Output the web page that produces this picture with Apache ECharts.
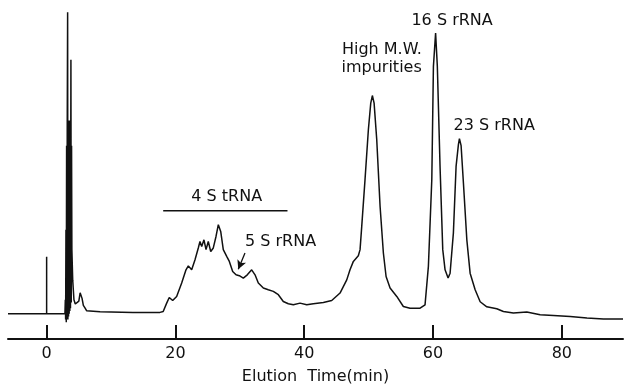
<!DOCTYPE html>
<html>
<head>
<meta charset="utf-8">
<script src="https://cdn.jsdelivr.net/npm/echarts@6/dist/echarts.min.js"></script>
<style>
html,body{margin:0;padding:0;background:#fff;}
#chart{width:624px;height:386px;}
</style>
</head>
<body>
<div id="chart"></div>
<script>
// Elution time (min)
var times = [-6,0,0,0,2.84,2.9,2.95,3.0,3.05,3.1,3.15,3.2,3.26,3.3,3.35,3.4,3.45,3.5,3.55,3.6,3.65,3.7,3.77,3.82,3.87,3.92,4.05,4.24,4.45,4.71,5.0,5.2,5.33,5.5,5.7,5.95,6.2,8.3,13.4,17.6,18.1,18.64,19.04,19.57,20.19,20.97,21.64,22.0,22.52,23.04,23.55,23.81,24.08,24.43,24.75,25.1,25.48,25.88,26.3,26.66,27.03,27.43,27.96,28.37,28.89,29.41,29.92,30.54,31.16,31.84,32.36,32.87,33.65,34.42,35.2,35.98,36.75,37.53,38.31,39.35,40.39,41.41,42.97,44.27,45.56,46.6,47.11,47.63,48.4,48.67,48.93,49.44,49.96,50.33,50.58,50.85,51.26,51.78,52.29,52.71,53.33,54.37,55.39,56.43,57.99,58.76,59.28,59.81,60.06,60.4,60.67,61.09,61.51,61.87,62.34,62.65,63.16,63.58,63.94,64.1,64.36,64.72,65.25,65.76,66.54,67.32,68.35,69.9,70.93,72.48,74.56,76.63,78.7,81.3,83.9,86.46,89.5];
// Detector signal (relative units)
var signal = [0,0,20.4,0,0,5,-2,30,-3,60,-2,68,107.6,-2,69,-1,69,0,68,1,69,2,90.7,4,60,22.9,12,5,3.5,3.2,4.5,7.5,8.2,5.5,3,2.1,1.1,0.7,0.5,0.5,0.8,3.8,5.8,4.75,6.2,11,15.7,17.1,15.7,19.3,23.5,25.8,24.0,26.4,22.9,25.8,22.25,23.5,27.6,31.8,29.4,22.9,20.5,18.7,15.1,13.9,13.6,12.75,13.9,15.7,13.9,11,9.2,8.6,8.0,6.8,4.4,3.6,3.2,3.8,3.2,3.6,4.0,4.75,7.4,12.1,15.7,18.7,20.7,22.9,31.2,47.9,65.7,75.2,77.9,75.2,62.1,38.3,21.7,13.3,9.2,6.2,2.6,2.0,2.0,3.2,16.9,47.9,88.3,100.2,88.3,52.6,22.9,15.7,12.75,14.5,28.8,52.6,60.4,62.5,60,46.7,26.4,14.5,8.6,4.3,2.5,1.8,0.8,0.25,0.6,-0.36,-0.6,-0.96,-1.5,-1.9,-1.9];
var tickValues = [0,20,40,60,80];
// Annotation texts and their anchor positions (time, signal)
var labelTexts = ['4 S tRNA','5 S rRNA','16 S rRNA','23 S rRNA'];
var labelTimes = [27.96,36.32,62.96,69.5];
var labelHeights = [41.9,25.8,104.5,67];
var hmwText = 'High M.W.\nimpurities';
var hmwTime = 58.25, hmwHeight = 91;
var barTimes = [18.1,37.4];
var barHeight = 36.8;
var arrowFrom = [30.8,21.7];
var arrowTo = [29.76,15.9];

var FONT = 'DejaVu Sans';
var INK = '#111';

var traceData = times.map(function(t,i){return [t, signal[i]];});
var labelData = labelTexts.map(function(s,i){return [labelTimes[i], labelHeights[i], s];});

var chart = echarts.init(document.getElementById('chart'), null, {renderer:'canvas'});
chart.setOption({
  animation:false,
  backgroundColor:'#fff',
  grid:{left:8,right:1,top:0,bottom:47,containLabel:false,outerBoundsMode:'none'},
  xAxis:{
    type:'value', min:-6, max:89.5,
    name:'Elution  Time(min)', nameLocation:'middle', nameGap:30,
    nameTextStyle:{fontFamily:FONT,fontSize:16,color:INK},
    axisLine:{show:true,onZero:false,lineStyle:{color:INK,width:2}},
    axisTick:{show:true,inside:true,length:14,customValues:tickValues,lineStyle:{color:INK,width:2}},
    axisLabel:{customValues:tickValues,margin:7,fontFamily:FONT,fontSize:16,color:INK},
    splitLine:{show:false}
  },
  yAxis:{type:'value',min:-9,max:112,show:false,splitLine:{show:false}},
  series:[
    {
      type:'line', data:traceData, symbol:'none', silent:true,
      lineStyle:{color:INK,width:1.5}
    },
    {
      type:'line', data:barTimes.map(function(t){return [t,barHeight];}), symbol:'none', silent:true,
      lineStyle:{color:INK,width:1.6},
      markLine:{
        silent:true, symbol:['none','arrow'], symbolSize:[7,9], label:{show:false},
        lineStyle:{color:INK,width:1.3,type:'solid'},
        data:[[{coord:arrowFrom},{coord:arrowTo}]]
      }
    },
    {
      type:'scatter', symbolSize:0, silent:true, itemStyle:{opacity:1},
      data:labelData,
      label:{show:true,position:'inside',opacity:1,formatter:function(p){return p.data[2];},
        fontFamily:FONT,fontSize:16,color:INK}
    },
    {
      type:'scatter', symbolSize:0, silent:true, itemStyle:{opacity:1},
      data:[[hmwTime,hmwHeight,hmwText]],
      label:{show:true,position:'left',distance:0,align:'right',lineHeight:18,opacity:1,
        formatter:function(p){return p.data[2];},fontFamily:FONT,fontSize:16,color:INK}
    }
  ]
});
</script>
</body>
</html>
